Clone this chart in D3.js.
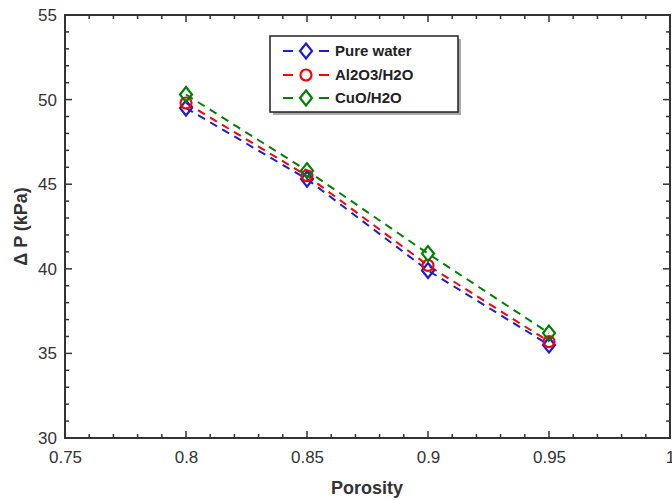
<!DOCTYPE html>
<html><head><meta charset="utf-8">
<script src="https://cdn.jsdelivr.net/npm/d3@7"></script>
<style>body{margin:0;background:#fff;}svg{display:block;}</style>
</head><body>
<svg id="c" width="672" height="500"></svg>
<script>
const porosity = [0.8, 0.85, 0.9, 0.95];
const pureWater = [49.5, 45.3, 39.9, 35.5];
const al2o3 = [49.8, 45.5, 40.2, 35.7];
const cuo = [50.3, 45.8, 40.9, 36.2];
const seriesNames = ["Pure water", "Al2O3/H2O", "CuO/H2O"];
const seriesColors = ["#1c1cd0", "#ff0000", "#008000"];
const seriesMarkers = ["diamond", "circle", "diamond"];
const xTicks = [0.75, 0.8, 0.85, 0.9, 0.95, 1];
const yTicks = [30, 35, 40, 45, 50, 55];

const series = [pureWater, al2o3, cuo];
const svg = d3.select("#c");
const L = 65, R = 670, T = 15, B = 438;
const x = d3.scaleLinear().domain([0.75, 1]).range([L, R]);
const y = d3.scaleLinear().domain([30, 55]).range([B, T]);
const axisColor = "#333";
const font = "Liberation Sans, Arial, sans-serif";

// minor ticks
const xMinor = d3.range(0, 26).map(i => 0.75 + i * 0.01);
const yMinor = d3.range(30, 56, 1);
const g = svg.append("g");
xMinor.forEach(v => {
  const major = xTicks.some(t => Math.abs(t - v) < 1e-9);
  const len = major ? 7 : 4;
  g.append("line").attr("x1", x(v)).attr("x2", x(v)).attr("y1", B).attr("y2", B - len).attr("stroke", axisColor).attr("stroke-width", 1.5);
  g.append("line").attr("x1", x(v)).attr("x2", x(v)).attr("y1", T).attr("y2", T + len).attr("stroke", axisColor).attr("stroke-width", 1.5);
});
yMinor.forEach(v => {
  const major = yTicks.includes(v);
  const len = major ? 7 : 4;
  g.append("line").attr("y1", y(v)).attr("y2", y(v)).attr("x1", L).attr("x2", L + len).attr("stroke", axisColor).attr("stroke-width", 1.5);
  g.append("line").attr("y1", y(v)).attr("y2", y(v)).attr("x1", R).attr("x2", R - len).attr("stroke", axisColor).attr("stroke-width", 1.5);
});
svg.append("rect").attr("x", L).attr("y", T).attr("width", R - L).attr("height", B - T)
  .attr("fill", "none").attr("stroke", axisColor).attr("stroke-width", 2);

// tick labels
const xAxis = d3.axisBottom(x).tickValues(xTicks).tickSize(0).tickPadding(13)
  .tickFormat(d => d3.format("")(+d.toFixed(2)));
const xa = svg.append("g").attr("transform", `translate(0,${B})`).call(xAxis);
xa.select(".domain").remove();
xa.selectAll("text").attr("font-family", font).attr("font-size", 17).attr("fill", "#333");
const yAxis = d3.axisLeft(y).tickValues(yTicks).tickSize(0).tickPadding(8);
const ya = svg.append("g").attr("transform", `translate(${L},0)`).call(yAxis);
ya.select(".domain").remove();
ya.selectAll("text").attr("font-family", font).attr("font-size", 17).attr("fill", "#333");

// axis titles
svg.append("text").attr("x", 367).attr("y", 494).attr("text-anchor", "middle")
  .attr("font-family", font).attr("font-size", 18).attr("font-weight", "bold").attr("fill", "#333").text("Porosity");
svg.append("text").attr("transform", `translate(27,${(T + B) / 2}) rotate(-90)`).attr("text-anchor", "middle")
  .attr("font-family", font).attr("font-size", 18).attr("font-weight", "bold").attr("fill", "#333").text("Δ P (kPa)");

function marker(sel, type, cx, cy, color) {
  if (type === "circle") {
    sel.append("circle").attr("cx", cx).attr("cy", cy).attr("r", 5.5)
      .attr("fill", "none").attr("stroke", color).attr("stroke-width", 2.2);
  } else {
    const s = 7.5;
    sel.append("path").attr("d", `M${cx},${cy - s}L${cx + s * 0.8},${cy}L${cx},${cy + s}L${cx - s * 0.8},${cy}Z`)
      .attr("fill", "none").attr("stroke", color).attr("stroke-width", 2.2);
  }
}

const line = d3.line().x((d, i) => x(porosity[i])).y(d => y(d));
series.forEach((vals, k) => {
  svg.append("path").datum(vals).attr("d", line).attr("fill", "none")
    .attr("stroke", seriesColors[k]).attr("stroke-width", 2).attr("stroke-dasharray", "8,6");
});
series.forEach((vals, k) => {
  const mg = svg.append("g");
  vals.forEach((v, i) => marker(mg, seriesMarkers[k], x(porosity[i]), y(v), seriesColors[k]));
});

// legend
const lg = svg.append("g");
lg.append("rect").attr("x", 273).attr("y", 39).attr("width", 188).attr("height", 76).attr("fill", "#aaa");
lg.append("rect").attr("x", 270).attr("y", 36).attr("width", 188).attr("height", 76)
  .attr("fill", "#fff").attr("stroke", "#222").attr("stroke-width", 1.5);
const rowY = [51, 75, 98];
seriesNames.forEach((name, k) => {
  const ry = rowY[k];
  lg.append("line").attr("x1", 283).attr("x2", 293).attr("y1", ry).attr("y2", ry).attr("stroke", seriesColors[k]).attr("stroke-width", 2);
  lg.append("line").attr("x1", 319).attr("x2", 329).attr("y1", ry).attr("y2", ry).attr("stroke", seriesColors[k]).attr("stroke-width", 2);
  marker(lg, seriesMarkers[k], 306, ry, seriesColors[k]);
  lg.append("text").attr("x", 335).attr("y", ry + 5).attr("font-family", font).attr("font-size", 15)
    .attr("font-weight", "bold").attr("fill", "#222").text(name);
});
</script>
</body></html>
